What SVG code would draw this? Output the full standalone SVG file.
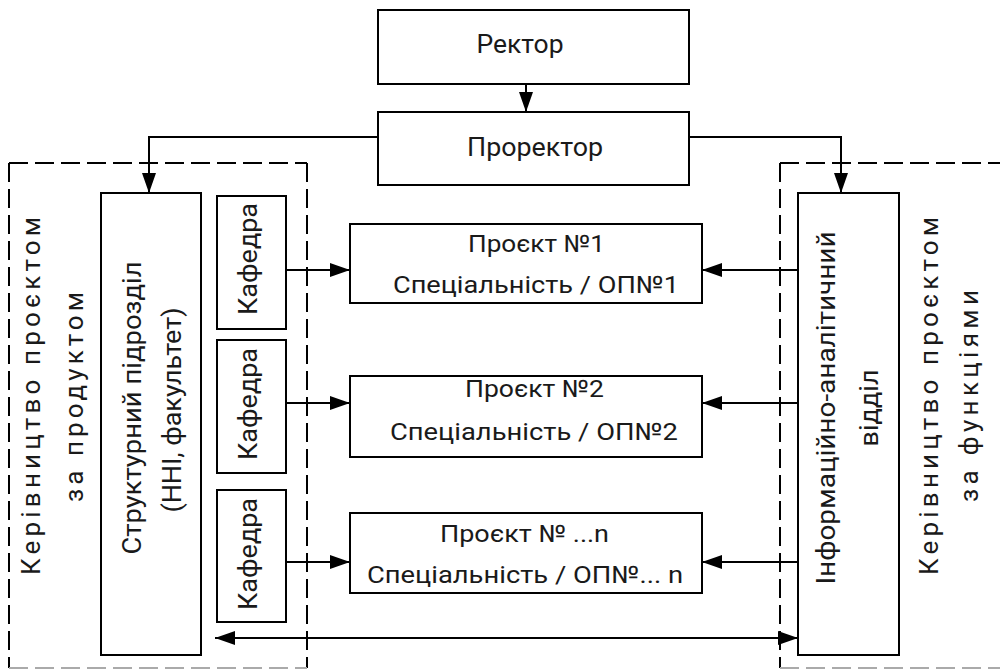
<svg xmlns="http://www.w3.org/2000/svg" width="1000" height="670" viewBox="0 0 1000 670">
<defs>
<style>
.box{fill:#fff;stroke:#000;stroke-width:2}
.dash{fill:none;stroke:#000;stroke-width:2;stroke-dasharray:19 7}
.dashb{fill:none;stroke:#aaa;stroke-width:2;stroke-dasharray:19 7}
.ln{fill:none;stroke:#000;stroke-width:2}
text{font-family:Roboto,"Liberation Sans","Noto Sans CJK SC",sans-serif;fill:#1a1a1a;text-anchor:middle}
.h{font-size:24px}
.t{font-size:26px}
.v{font-size:26px}
.o{font-size:26px}
</style>
<marker id="ah" viewBox="0 0 20 14" refX="20" refY="7" markerWidth="20" markerHeight="14" markerUnits="userSpaceOnUse" orient="auto-start-reverse">
<path d="M0,0 L20,7 L0,14 z" fill="#000"/>
</marker>
</defs>
<rect width="1000" height="670" fill="#fff"/>

<g id="zones">
<path class="dash" d="M9,163 H307 M9,163 V668 M307,163 V668"/>
<path class="dashb" d="M9,668 H307"/>
<path class="dash" d="M780,163 H1000 M780,163 V668"/>
<path class="dashb" d="M780,668 H1000"/>
<text class="o" transform="translate(40,396) rotate(-90)" textLength="358" lengthAdjust="spacing">Керівництво проєктом</text>
<text class="o" transform="translate(83,397) rotate(-90)" textLength="210" lengthAdjust="spacing">за продуктом</text>
<text class="o" transform="translate(938,396) rotate(-90)" textLength="358" lengthAdjust="spacing">Керівництво проєктом</text>
<text class="o" transform="translate(978,396) rotate(-90)" textLength="212" lengthAdjust="spacing">за функціями</text>
</g>

<g id="connectors">
<path class="ln" d="M526,84 V112" marker-end="url(#ah)"/>
<path class="ln" d="M378,137 H149 V193" marker-end="url(#ah)"/>
<path class="ln" d="M689,137 H841 V193" marker-end="url(#ah)"/>
<path class="ln" d="M286,270 H350" marker-end="url(#ah)"/>
<path class="ln" d="M286,403 H350" marker-end="url(#ah)"/>
<path class="ln" d="M286,562 H350" marker-end="url(#ah)"/>
<path class="ln" d="M798,270 H702" marker-end="url(#ah)"/>
<path class="ln" d="M798,403 H702" marker-end="url(#ah)"/>
<path class="ln" d="M798,562 H702" marker-end="url(#ah)"/>
<path class="ln" d="M215,638 H798" marker-start="url(#ah)" marker-end="url(#ah)"/>
</g>

<g id="rector">
<rect class="box" x="378" y="10" width="311" height="74"/>
<text class="t" x="520" y="53" textLength="87" lengthAdjust="spacingAndGlyphs">Ректор</text>
</g>
<g id="prorector">
<rect class="box" x="378" y="112" width="311" height="73"/>
<text class="t" x="535" y="156" textLength="136" lengthAdjust="spacingAndGlyphs">Проректор</text>
</g>

<g id="struct">
<rect class="box" x="101" y="193" width="100" height="462"/>
<text class="v" transform="translate(141,408) rotate(-90)" textLength="293" lengthAdjust="spacingAndGlyphs">Структурний підрозділ</text>
<text class="v" transform="translate(181,410) rotate(-90)" textLength="205" lengthAdjust="spacingAndGlyphs">(ННІ, факультет)</text>
</g>

<g id="kaf1">
<rect class="box" x="217" y="196" width="69" height="133"/>
<text class="v" transform="translate(257,259) rotate(-90)" textLength="112" lengthAdjust="spacingAndGlyphs">Кафедра</text>
</g>
<g id="kaf2">
<rect class="box" x="217" y="340" width="69" height="133"/>
<text class="v" transform="translate(257,404) rotate(-90)" textLength="112" lengthAdjust="spacingAndGlyphs">Кафедра</text>
</g>
<g id="kaf3">
<rect class="box" x="217" y="490" width="69" height="132"/>
<text class="v" transform="translate(257,554) rotate(-90)" textLength="112" lengthAdjust="spacingAndGlyphs">Кафедра</text>
</g>

<g id="proj1">
<rect class="box" x="350" y="224" width="352" height="79"/>
<text class="h" x="536.5" y="252" textLength="137" lengthAdjust="spacingAndGlyphs">Проєкт №1</text>
<text class="h" x="536" y="293" textLength="286" lengthAdjust="spacingAndGlyphs">Спеціальність / ОП№1</text>
</g>
<g id="proj2">
<rect class="box" x="350" y="376" width="352" height="81"/>
<text class="h" x="534.5" y="397" textLength="139" lengthAdjust="spacingAndGlyphs">Проєкт №2</text>
<text class="h" x="534" y="440" textLength="288" lengthAdjust="spacingAndGlyphs">Спеціальність / ОП№2</text>
</g>
<g id="proj3">
<rect class="box" x="350" y="513" width="352" height="80"/>
<text class="h" x="524.5" y="542" textLength="169" lengthAdjust="spacingAndGlyphs">Проєкт № ...n</text>
<text class="h" x="525" y="583" textLength="316" lengthAdjust="spacingAndGlyphs">Спеціальність / ОП№... n</text>
</g>

<g id="info">
<rect class="box" x="798" y="193" width="101" height="462"/>
<text class="v" transform="translate(835,408) rotate(-90)" textLength="353" lengthAdjust="spacingAndGlyphs">Інформаційно-аналітичний</text>
<text class="v" transform="translate(878,408) rotate(-90)" textLength="77" lengthAdjust="spacingAndGlyphs">відділ</text>
</g>
</svg>
